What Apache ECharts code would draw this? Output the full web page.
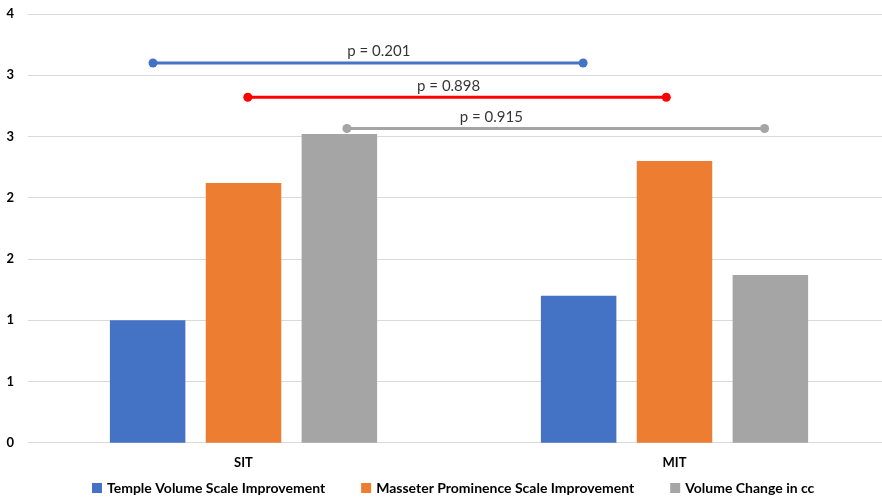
<!DOCTYPE html>
<html>
<head>
<meta charset="utf-8">
<script src="https://cdn.jsdelivr.net/npm/echarts@6/dist/echarts.min.js"></script>
<style>
html,body{margin:0;padding:0;background:#fff;overflow:hidden;width:882px;height:500px;}
#chart{width:890px;height:500px;}
</style>
</head>
<body>
<div id="chart"></div>
<script>
const categories = ['SIT', 'MIT'];
const seriesNames = ['Temple Volume Scale Improvement', 'Masseter Prominence Scale Improvement', 'Volume Change in cc'];
const templeValues = [1.0, 1.2];
const masseterValues = [2.12, 2.3];
const volumeValues = [2.52, 1.37];
const yTickLabels = ['0', '1', '1', '2', '2', '3', '3', '4'];

const pLabels = ['p = 0.201', 'p = 0.898', 'p = 0.915'];
const bracketStart = [0.29, 0.51, 0.74];
const bracketEnd = [1.288, 1.481, 1.709];
const bracketY = [3.10, 2.82, 2.565];
const pLabelX = [0.814, 0.976, 1.075];

const barColors = ['#4472C4', '#ED7D31', '#A5A5A5'];
const bracketColors = ['#4472C4', '#FF0000', '#A5A5A5'];
const FONT = 'Lato, "Liberation Sans", sans-serif';

const barSeries = [templeValues, masseterValues, volumeValues].map((vals, i) => ({
  name: seriesNames[i],
  type: 'bar',
  data: vals,
  xAxisIndex: 0,
  barGap: '27%',
  barCategoryGap: '38%',
  itemStyle: { color: barColors[i] },
  z: 2
}));

const bracketSeries = pLabels.map((lab, i) => ({
  name: 'bracket' + i,
  type: 'line',
  xAxisIndex: 1,
  data: [[bracketStart[i], bracketY[i]], [bracketEnd[i], bracketY[i]]],
  symbol: 'circle',
  symbolSize: 9,
  showSymbol: true,
  lineStyle: { color: bracketColors[i], width: 3 },
  itemStyle: { color: bracketColors[i] },
  silent: true,
  z: 5
}));

const labelSeries = {
  name: 'pvals',
  type: 'scatter',
  xAxisIndex: 1,
  symbolSize: 0,
  data: pLabels.map((lab, i) => ({ value: [pLabelX[i], bracketY[i]], name: lab })),
  label: {
    show: true,
    position: 'top',
    distance: 4,
    formatter: p => p.name,
    color: '#000',
    fontSize: 15,
    fontFamily: FONT
  },
  silent: true,
  z: 6
};

const chart = echarts.init(document.getElementById('chart'), null, { renderer: 'canvas' });
chart.setOption({
  animation: false,
  backgroundColor: '#fff',
  grid: { left: 28, top: 14, width: 862, bottom: 57.3, containLabel: false },
  legend: {
    data: seriesNames,
    top: 476,
    left: 87,
    icon: 'rect',
    itemWidth: 10,
    itemHeight: 10,
    itemGap: 36,
    textStyle: { fontSize: 14, fontWeight: 'bold', color: '#000', fontFamily: FONT }
  },
  xAxis: [
    {
      type: 'category',
      data: categories,
      axisLine: { show: true, lineStyle: { color: '#d9d9d9' } },
      axisTick: { show: false },
      axisLabel: { fontSize: 13, fontWeight: 'bold', color: '#000', fontFamily: FONT, margin: 14 }
    },
    {
      type: 'value',
      min: 0,
      max: 2,
      show: false
    }
  ],
  yAxis: {
    type: 'value',
    min: 0,
    max: 3.5,
    interval: 0.5,
    axisLine: { show: false },
    axisTick: { show: false },
    splitLine: { lineStyle: { color: '#d9d9d9', width: 1 } },
    axisLabel: {
      fontSize: 13,
      fontWeight: 'bold',
      color: '#000',
      fontFamily: FONT,
      margin: 14,
      formatter: (v) => yTickLabels[Math.round(v / 0.5)]
    }
  },
  series: [...barSeries, ...bracketSeries, labelSeries]
});
</script>
</body>
</html>
